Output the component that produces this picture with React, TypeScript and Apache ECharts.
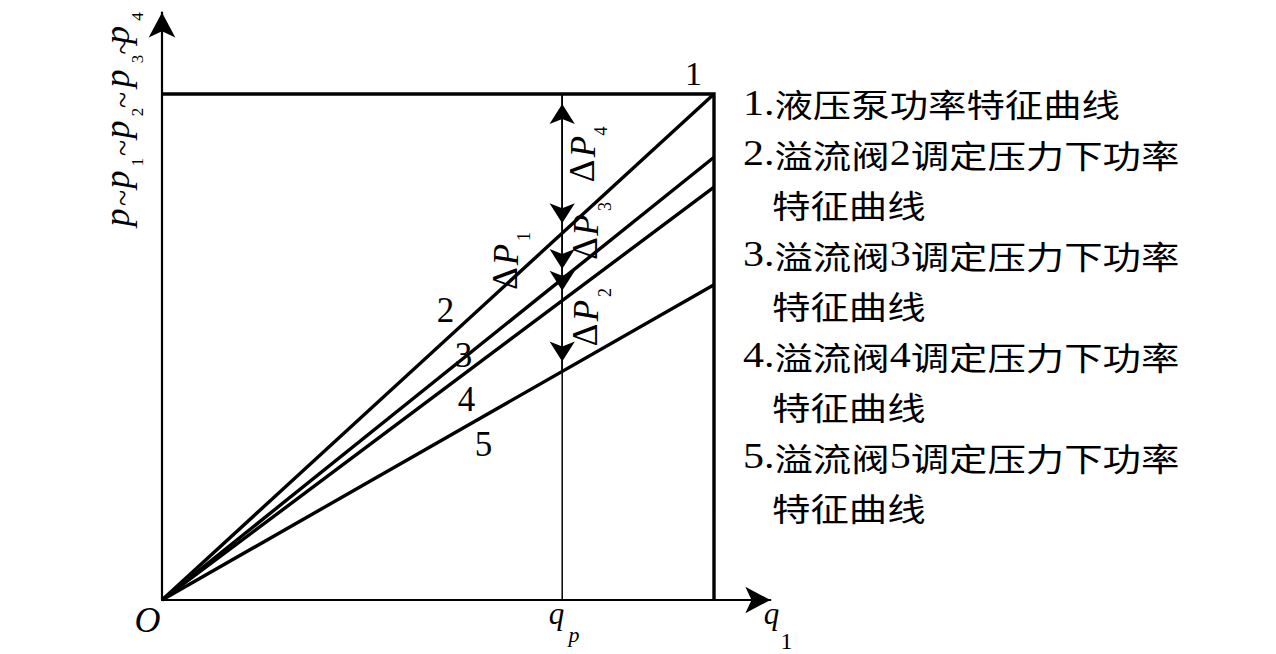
import React, { useEffect, useRef } from "react";
import * as echarts from "echarts";

// ---- data (relative units: pump power limit = 100, q1 limit = 100) ----
const X_END = 100; // right border of pump curve (q1 limit)
const Q_P = 72.5; // q_p position
const P_PUMP = 100; // pump power level (curve 1)
const pumpX = [0, X_END, X_END];
const pumpY = [P_PUMP, P_PUMP, 0];
const valveNames = ["2", "3", "4", "5"];
const valveEnd = [100, 87.5, 81.6, 62.3]; // value of curves 2..5 at q1 limit

const legendRows = [
  "1.液压泵功率特征曲线",
  "2.溢流阀2调定压力下功率",
  "特征曲线",
  "3.溢流阀3调定压力下功率",
  "特征曲线",
  "4.溢流阀4调定压力下功率",
  "特征曲线",
  "5.溢流阀5调定压力下功率",
  "特征曲线",
];

// ---- layout ----
const W = 1276;
const H = 654;
const PX_X = 5.52; // px per unit
const PX_Y = 5.06;
const X_MAX = 110.2;
const Y_MAX = 116.1;
const GRID_LEFT = 162;
const GRID_BOTTOM_PX = 600;

const SERIF = "Liberation Serif";
const CJK = "Noto Sans CJK SC";

function T(text: string, x: number, y: number, size: number, italic = false, rot = 0) {
  return {
    type: "text",
    x,
    y,
    rotation: rot,
    silent: true,
    style: {
      text,
      fontFamily: SERIF,
      fontSize: size,
      fontStyle: italic ? "italic" : "normal",
      fill: "#000",
      textAlign: "center",
      textVerticalAlign: "middle",
    },
  };
}

function toRich(s: string) {
  return s
    .split(/([0-9.]+)/)
    .filter((p) => p.length > 0)
    .map((p) => (/^[0-9.]+$/.test(p) ? `{n|${p}}` : `{c|${p}}`))
    .join("");
}

export default function App() {
  const ref = useRef<HTMLDivElement>(null);
  useEffect(() => {
    document.body.style.margin = "0";
    if (!ref.current) return;
    const chart = echarts.init(ref.current, null, { renderer: "svg" });

    const levels = [P_PUMP, ...valveEnd.map((v) => (v * Q_P) / X_END)];
    const arrowEnd = { symbol: "arrow", symbolSize: [19, 20], symbolOffset: [0, "50%"] };
    const segs: any[] = [];
    segs.push([
      { coord: [Q_P, levels[0]], ...arrowEnd },
      { coord: [Q_P, levels[1]], ...arrowEnd },
    ]);
    for (let i = 1; i < levels.length - 1; i++) {
      segs.push([
        { coord: [Q_P, levels[i]], symbol: "none" },
        { coord: [Q_P, levels[i + 1]], ...arrowEnd },
      ]);
    }

    const R = Math.PI / 2;
    const graphics: any[] = [
      // y-axis title p~p1~p2~p3~p4 (rotated)
      T("p", 117.3, 217.5, 36, true, R),
      T("~", 122.6, 198, 30, false, R),
      T("p", 117.3, 179.5, 36, true, R),
      T("1", 137.5, 162, 17, false, R),
      T("~", 122.6, 148, 30, false, R),
      T("p", 117.3, 129.5, 36, true, R),
      T("2", 137.5, 112, 17, false, R),
      T("~", 122.6, 100, 30, false, R),
      T("p", 117.3, 78.5, 36, true, R),
      T("3", 137.5, 59, 17, false, R),
      T("~", 122.6, 46.5, 30, false, R),
      T("p", 117.3, 35, 36, true, R),
      T("4", 137.5, 16.5, 17, false, R),
      // ΔP4
      T("Δ", 582, 171, 35, false, R),
      T("P", 583, 146.5, 35, true, R),
      T("4", 601, 131, 18, false, R),
      // ΔP1
      T("Δ", 505.5, 278.5, 35, false, R),
      T("P", 506.5, 254.5, 35, true, R),
      T("1", 523.5, 236.5, 18, false, R),
      // ΔP3
      T("Δ", 585, 248.5, 35, false, R),
      T("P", 586, 225, 35, true, R),
      T("3", 605, 206.5, 18, false, R),
      // ΔP2
      T("Δ", 585, 335, 35, false, R),
      T("P", 586, 310.5, 35, true, R),
      T("2", 604.5, 292.5, 18, false, R),
      // curve numbers
      T("1", 693.5, 73.5, 34),
      T(valveNames[0], 445.5, 310, 35),
      T(valveNames[1], 463.5, 355, 35),
      T(valveNames[2], 466.5, 399.5, 35),
      T(valveNames[3], 483.5, 444.5, 35),
      // axis labels
      T("O", 147.5, 619.5, 36, true),
      T("q", 556.5, 613.4, 31, true),
      T("p", 574, 634.7, 22, true),
      T("q", 771.5, 613.4, 31, true),
      T("1", 786.5, 641, 24),
      // legend
      ...legendRows.map((row, i) => ({
        type: "text",
        x: /^[0-9]/.test(row) ? 743 : 772,
        y: 103 + 50.5 * i,
        scaleX: 1.2,
        silent: true,
        style: {
          text: toRich(row),
          textAlign: "left",
          textVerticalAlign: "middle",
          fill: "#000",
          rich: {
            n: { fontFamily: SERIF, fontSize: 35, fill: "#000" },
            c: { fontFamily: CJK, fontSize: 32, fill: "#000" },
          },
        },
      })),
    ];

    const axisLine = {
      show: true,
      symbol: ["none", "arrow"],
      symbolSize: [20, 25],
      lineStyle: { color: "#000", width: 2.2 },
    };

    chart.setOption({
      animation: false,
      backgroundColor: "#fff",
      grid: {
        left: GRID_LEFT,
        top: GRID_BOTTOM_PX - Y_MAX * PX_Y,
        width: X_MAX * PX_X,
        height: Y_MAX * PX_Y,
      },
      xAxis: {
        type: "value",
        min: 0,
        max: X_MAX,
        axisLine,
        axisTick: { show: false },
        axisLabel: { show: false },
        splitLine: { show: false },
      },
      yAxis: {
        type: "value",
        min: 0,
        max: Y_MAX,
        axisLine,
        axisTick: { show: false },
        axisLabel: { show: false },
        splitLine: { show: false },
      },
      series: [
        {
          type: "line",
          name: "1",
          data: pumpX.map((x, i) => [x, pumpY[i]]),
          symbol: "none",
          lineStyle: { color: "#000", width: 3.4, join: "miter" },
          silent: true,
        },
        ...valveEnd.map((v, i) => ({
          type: "line",
          name: valveNames[i],
          data: [
            [0, 0],
            [X_END, v],
          ],
          symbol: "none",
          lineStyle: { color: "#000", width: 3.4 },
          silent: true,
        })),
        {
          type: "line",
          name: "qp",
          data: [
            [Q_P, 0],
            [Q_P, P_PUMP],
          ],
          symbol: "none",
          lineStyle: { color: "#000", width: 1.5 },
          silent: true,
          markLine: {
            silent: true,
            animation: false,
            symbol: "none",
            label: { show: false },
            lineStyle: { color: "#000", width: 1.5, type: "solid" },
            itemStyle: { color: "#000" },
            data: segs,
          },
        },
      ],
      graphic: { elements: graphics },
    });
    return () => chart.dispose();
  }, []);
  return (
    <div
      ref={ref}
      style={{ position: "fixed", left: 0, top: 0, width: W, height: H, background: "#fff" }}
    />
  );
}
